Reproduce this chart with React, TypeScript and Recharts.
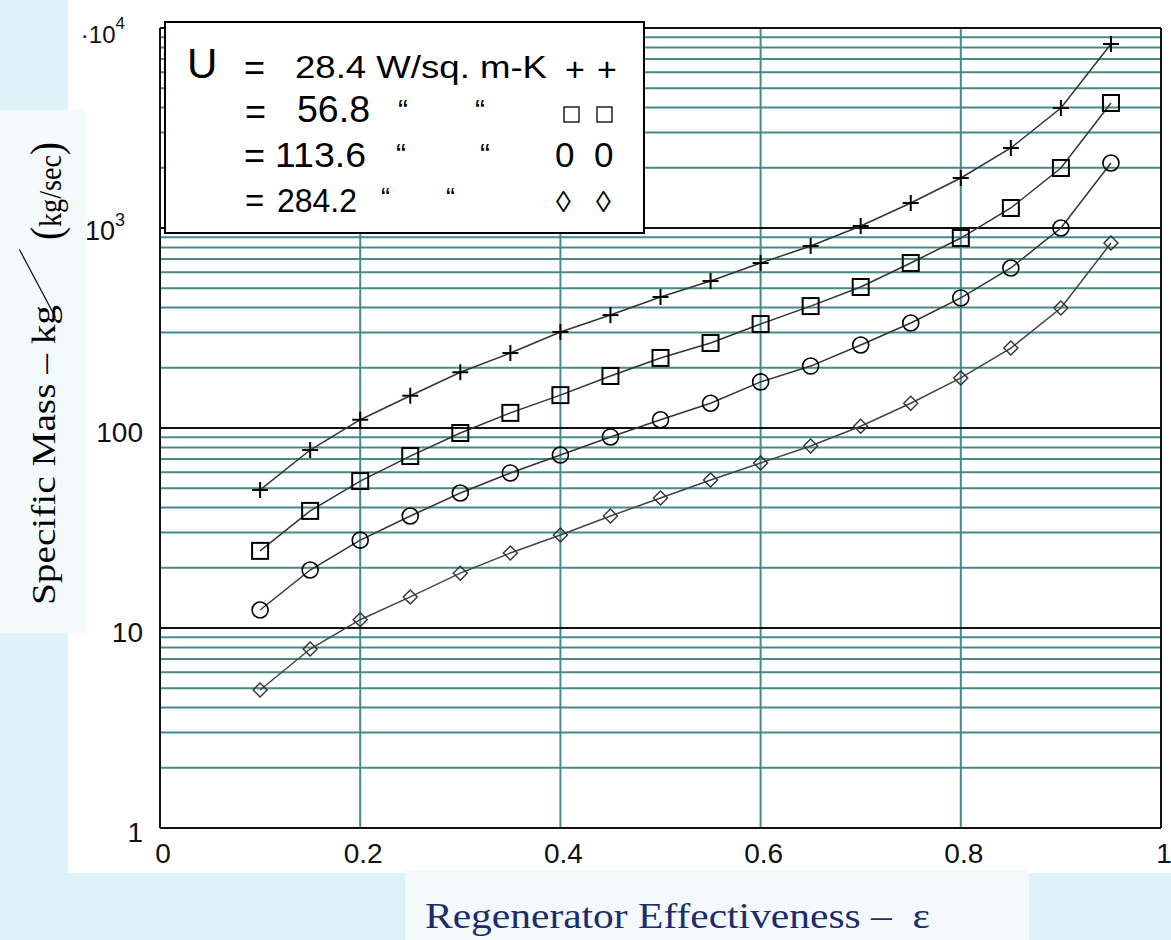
import { LineChart, Line, XAxis, YAxis, ReferenceLine } from 'recharts'

// regenerator effectiveness (x) and specific mass (kg per kg/sec) for each U
const effectiveness = [0.1, 0.15, 0.2, 0.25, 0.3, 0.35, 0.4, 0.45, 0.5, 0.55, 0.6, 0.65, 0.7, 0.75, 0.8, 0.85, 0.9, 0.95]
const massU28 = [49, 77.6, 110, 145, 190, 237, 302, 367, 452, 543, 668, 813, 1023, 1334, 1778, 2512, 3981, 8318]
const massU57 = [24.3, 38.5, 54.3, 72.4, 94.4, 119, 146, 182, 224, 266, 331, 407, 507, 668, 891, 1259, 1995, 4217]
const massU114 = [12.3, 19.5, 27.5, 36.3, 47.3, 59.6, 73.3, 90.2, 110, 133, 170, 204, 260, 335, 447, 631, 1000, 2113]
const massU284 = [4.9, 7.85, 11, 14.3, 18.8, 23.7, 29.2, 36.3, 44.7, 55, 66.8, 81.3, 102, 133, 178, 251, 398, 841]

const xTicks = [0, 0.2, 0.4, 0.6, 0.8, 1]
const xTickLabels = ['0', '0.2', '0.4', '0.6', '0.8', '1']
const yTicks = [1, 10, 100, 1000, 10000]
const xGridLines = [0.2, 0.4, 0.6, 0.8]
const decadeLines = [10, 100, 1000]
const minorLines = [
  2, 3, 4, 5, 6, 7, 8, 9,
  20, 30, 40, 50, 60, 70, 80, 90,
  200, 300, 400, 500, 600, 700, 800, 900,
  2000, 3000, 4000, 5000, 6000, 7000, 8000, 9000,
]

const data = effectiveness.map((x, i) => ({
  x,
  u28: massU28[i],
  u57: massU57[i],
  u114: massU114[i],
  u284: massU284[i],
}))

const TEAL = '#468a8a'
const TICK_FONT = '"Liberation Sans", Arial, sans-serif'
const SERIF = '"Liberation Serif", "Times New Roman", serif'

function PlusDot({ cx, cy }: { cx: number; cy: number }) {
  return (
    <g stroke="#000" strokeWidth={2}>
      <line x1={cx - 8} y1={cy} x2={cx + 8} y2={cy} />
      <line x1={cx} y1={cy - 8} x2={cx} y2={cy + 8} />
    </g>
  )
}

function SquareDot({ cx, cy }: { cx: number; cy: number }) {
  return <rect x={cx - 8} y={cy - 8} width={16} height={16} fill="none" stroke="#000" strokeWidth={2} />
}

function CircleDot({ cx, cy }: { cx: number; cy: number }) {
  return <circle cx={cx} cy={cy} r={8} fill="none" stroke="#000" strokeWidth={1.6} />
}

function DiamondDot({ cx, cy }: { cx: number; cy: number }) {
  return (
    <path
      d={`M${cx},${cy - 7} L${cx + 7},${cy} L${cx},${cy + 7} L${cx - 7},${cy} Z`}
      fill="none"
      stroke="#333"
      strokeWidth={1.4}
    />
  )
}

function XTick(props: any) {
  const { x, y, payload, index } = props
  return (
    <text x={x + 3} y={y + 35} textAnchor="middle" fontFamily={TICK_FONT} fontSize={28} fill="#111">
      {xTickLabels[index] ?? String(payload.value)}
    </text>
  )
}

function YTick(props: any) {
  const { x, y, payload } = props
  const v = payload.value
  if (v === 10000) {
    return (
      <text x={x - 35} y={y + 15} textAnchor="end" fontFamily={TICK_FONT} fontSize={24} fill="#111">
        ·10<tspan dy={-14} fontSize={17}>4</tspan>
      </text>
    )
  }
  if (v === 1000) {
    return (
      <text x={x - 35} y={y + 12} textAnchor="end" fontFamily={TICK_FONT} fontSize={27} fill="#111">
        10<tspan dy={-14} fontSize={18}>3</tspan>
      </text>
    )
  }
  return (
    <text x={x - 17} y={y + 14} textAnchor="end" fontFamily={TICK_FONT} fontSize={28} fill="#111">
      {String(v)}
    </text>
  )
}

export default function App() {
  const legendFont = '"Liberation Sans", Arial, sans-serif'
  return (
    <div style={{ position: 'absolute', left: 0, top: 0, width: 1171, height: 940, background: '#def3f8', overflow: 'hidden' }}>
      <div style={{ position: 'absolute', left: 68, top: 0, width: 1103, height: 873, background: '#fff' }} />
      <div style={{ position: 'absolute', left: 0, top: 110, width: 86, height: 523, background: '#f4f9fc' }} />
      <div style={{ position: 'absolute', left: 405, top: 870, width: 624, height: 70, background: '#f4f9fc' }} />

      <div style={{ position: 'absolute', left: 0, top: 0 }}>
        <LineChart width={1171} height={940} data={data} margin={{ top: 28, right: 10, bottom: 72, left: 0 }}>
          {minorLines.map((v) => (
            <ReferenceLine key={`m${v}`} y={v} stroke={TEAL} strokeWidth={2} />
          ))}
          {xGridLines.map((v) => (
            <ReferenceLine key={`v${v}`} x={v} stroke={TEAL} strokeWidth={2} />
          ))}
          {decadeLines.map((v) => (
            <ReferenceLine key={`d${v}`} y={v} stroke="#111" strokeWidth={2} />
          ))}
          <ReferenceLine y={10000} stroke="#111" strokeWidth={2} />
          <ReferenceLine x={1} stroke="#111" strokeWidth={2} />
          <XAxis
            dataKey="x"
            type="number"
            domain={[0, 1]}
            ticks={xTicks}
            height={40}
            tickLine={false}
            tickSize={0}
            tickMargin={0}
            axisLine={{ stroke: '#111', strokeWidth: 2 }}
            tick={<XTick />}
            interval={0}
          />
          <YAxis
            type="number"
            scale="log"
            domain={[1, 10000]}
            ticks={yTicks}
            width={160}
            tickLine={false}
            tickSize={0}
            tickMargin={0}
            axisLine={{ stroke: '#111', strokeWidth: 2 }}
            tick={<YTick />}
            interval={0}
            allowDataOverflow
          />
          <Line
            dataKey="u28"
            type="linear"
            stroke="#333"
            strokeWidth={1.5}
            isAnimationActive={false}
            activeDot={false}
            dot={(p: any) => <PlusDot key={`a${p.index}`} cx={p.cx} cy={p.cy} />}
          />
          <Line
            dataKey="u57"
            type="linear"
            stroke="#333"
            strokeWidth={1.5}
            isAnimationActive={false}
            activeDot={false}
            dot={(p: any) => <SquareDot key={`b${p.index}`} cx={p.cx} cy={p.cy} />}
          />
          <Line
            dataKey="u114"
            type="linear"
            stroke="#333"
            strokeWidth={1.5}
            isAnimationActive={false}
            activeDot={false}
            dot={(p: any) => <CircleDot key={`c${p.index}`} cx={p.cx} cy={p.cy} />}
          />
          <Line
            dataKey="u284"
            type="linear"
            stroke="#444"
            strokeWidth={1.5}
            isAnimationActive={false}
            activeDot={false}
            dot={(p: any) => <DiamondDot key={`d${p.index}`} cx={p.cx} cy={p.cy} />}
          />
        </LineChart>
      </div>

      <svg width={1171} height={940} style={{ position: 'absolute', left: 0, top: 0, pointerEvents: 'none' }}>
        {/* legend box */}
        <rect x={165} y={22} width={479} height={211} fill="#fff" stroke="#000" strokeWidth={2} />
        <g fontFamily={legendFont} fill="#000">
          <text x={187} y={78} fontSize={42}>U</text>
          <text x={244} y={80} fontSize={36}>=</text>
          <text x={295} y={78} fontSize={31} textLength={252} lengthAdjust="spacingAndGlyphs">28.4 W/sq. m-K</text>
          <text x={565} y={81} fontSize={34}>+</text>
          <text x={597} y={81} fontSize={34}>+</text>

          <text x={245} y={124} fontSize={36}>=</text>
          <text x={297} y={122} fontSize={36} textLength={73} lengthAdjust="spacingAndGlyphs">56.8</text>
          <text x={398} y={120} fontSize={30}>“</text>
          <text x={475} y={120} fontSize={30}>“</text>
          <rect x={564} y={107} width={15} height={15} fill="none" stroke="#000" strokeWidth={1.3} />
          <rect x={597} y={107} width={15} height={15} fill="none" stroke="#000" strokeWidth={1.3} />

          <text x={244} y={168} fontSize={36}>=</text>
          <text x={275} y={167} fontSize={35} textLength={91} lengthAdjust="spacingAndGlyphs">113.6</text>
          <text x={396} y={164} fontSize={30}>“</text>
          <text x={480} y={164} fontSize={30}>“</text>
          <text x={555} y={167} fontSize={35}>0</text>
          <text x={594} y={167} fontSize={35}>0</text>

          <text x={245} y={212} fontSize={33}>=</text>
          <text x={277} y={212} fontSize={33} textLength={80} lengthAdjust="spacingAndGlyphs">284.2</text>
          <text x={381} y={207} fontSize={27}>“</text>
          <text x={446} y={207} fontSize={27}>“</text>
          <text x={556} y={212} fontSize={30}>◊</text>
          <text x={596} y={212} fontSize={30}>◊</text>
        </g>

        {/* y axis title */}
        <g fontFamily={SERIF} fill="#000">
          <text transform="translate(55,605) rotate(-90)" fontSize={34} textLength={300} lengthAdjust="spacingAndGlyphs">
            Specific Mass – kg
          </text>
          {/* long shallow slash: skewed so the stroke stays thin */}
          <text transform="translate(55,318) rotate(-90) skewX(-57)" fontSize={54}>
            /
          </text>
          <text transform="translate(61,240) rotate(-90)" fontSize={32} textLength={98} lengthAdjust="spacingAndGlyphs">
            <tspan fontSize={44}>(</tspan>kg/sec<tspan fontSize={44}>)</tspan>
          </text>
        </g>

        {/* x axis title */}
        <text
          x={425}
          y={928}
          fontFamily={SERIF}
          fontSize={36}
          fill="#1c2c6c"
          textLength={505}
          lengthAdjust="spacingAndGlyphs"
        >
          Regenerator Effectiveness –{'\u00a0\u00a0'}ε
        </text>
      </svg>
    </div>
  )
}
